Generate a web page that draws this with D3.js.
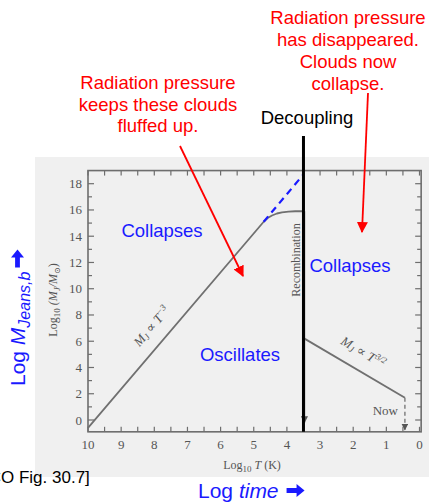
<!DOCTYPE html>
<html>
<head>
<meta charset="utf-8">
<script src="https://cdn.jsdelivr.net/npm/d3@7"></script>
<style>
  body { margin: 0; background: #fff; }
  svg { display: block; }
</style>
</head>
<body>
<script>
var w = 429;
var h = 504;

// tick labels
var xTickLabels = [10, 9, 8, 7, 6, 5, 4, 3, 2, 1, 0];
var yTickLabels = [0, 2, 4, 6, 8, 10, 12, 14, 16, 18];

// M_J vs log T before recombination (T^-3 then flattening)
var earlyLogT = [10, 4.7, 4.58, 4.45, 4.3, 4.15, 3.95, 3.75, 3.5];
var earlyLogM = [-0.6, 15.1, 15.38, 15.58, 15.73, 15.82, 15.88, 15.9, 15.9];

// blue dashed extrapolation of T^-3
var extrapLogT = [4.7, 3.52];
var extrapLogM = [15.1, 18.65];

// after recombination, M_J ∝ T^3/2
var lateLogT = [3.47, 0.44];
var lateLogM = [6.2, 1.7];

var decouplingLogT = 3.5;
var nowLogT = 0.44;

var xScale = d3.scaleLinear().domain([10, 0]).range([88, 419.5]);
var yScale = d3.scaleLinear().domain([0, 18]).range([420, 183.7]);

var frameX = [10, -0.05];
var frameY = [-0.9, 19];

var svg = d3.select("body")
      .append("svg")
      .attr("width", w)
      .attr("height", h);

var defs = svg.append("defs");
function marker(id, color, size) {
  defs.append("marker")
     .attr("id", id)
     .attr("viewBox", "0 0 10 10")
     .attr("refX", 9).attr("refY", 5)
     .attr("markerWidth", size).attr("markerHeight", size)
     .attr("markerUnits", "userSpaceOnUse")
     .attr("orient", "auto")
     .append("path")
     .attr("d", "M0,0 L10,5 L0,10 Z")
     .attr("fill", color);
}
marker("redArrow", "#ff0000", 11);
marker("grayArrow", "#555", 7);

// scanned page background
svg.append("rect")
   .attr("x", 35).attr("y", 157)
   .attr("width", w - 35).attr("height", 320)
   .attr("fill", "#f0f0f0");

var plot = svg.append("g");
var axisColor = "#6e6e6e";

// frame
plot.append("rect")
   .attr("x", xScale(frameX[0]))
   .attr("y", yScale(frameY[1]))
   .attr("width", xScale(frameX[1]) - xScale(frameX[0]))
   .attr("height", yScale(frameY[0]) - yScale(frameY[1]))
   .attr("fill", "none")
   .attr("stroke", axisColor)
   .attr("stroke-width", 1.6);

// x ticks at every half unit, bottom and top
var xMinor = d3.range(0, 10.01, 0.5);
plot.selectAll(".xtb")
   .data(xMinor).enter().append("line")
   .attr("x1", function(d) { return xScale(d); })
   .attr("x2", function(d) { return xScale(d); })
   .attr("y1", yScale(frameY[0]))
   .attr("y2", yScale(frameY[0]) - 5)
   .attr("stroke", axisColor).attr("stroke-width", 1.2);
plot.selectAll(".xtt")
   .data(xMinor).enter().append("line")
   .attr("x1", function(d) { return xScale(d); })
   .attr("x2", function(d) { return xScale(d); })
   .attr("y1", yScale(frameY[1]))
   .attr("y2", yScale(frameY[1]) + 5)
   .attr("stroke", axisColor).attr("stroke-width", 1.2);

// y ticks at every unit, left and right
var yMinor = d3.range(0, 18.01, 1);
plot.selectAll(".ytl")
   .data(yMinor).enter().append("line")
   .attr("x1", xScale(frameX[0]))
   .attr("x2", function(d) { return xScale(frameX[0]) + (d % 2 === 0 ? 6 : 4); })
   .attr("y1", function(d) { return yScale(d); })
   .attr("y2", function(d) { return yScale(d); })
   .attr("stroke", axisColor).attr("stroke-width", 1.2);
plot.selectAll(".ytr")
   .data(yMinor).enter().append("line")
   .attr("x1", xScale(frameX[1]))
   .attr("x2", function(d) { return xScale(frameX[1]) - (d % 2 === 0 ? 6 : 4); })
   .attr("y1", function(d) { return yScale(d); })
   .attr("y2", function(d) { return yScale(d); })
   .attr("stroke", axisColor).attr("stroke-width", 1.2);

var serif = "'Liberation Serif', 'DejaVu Serif', serif";
var textGray = "#555";

plot.selectAll(".xl")
   .data(xTickLabels).enter().append("text")
   .text(function(d) { return d; })
   .attr("x", function(d) { return xScale(d); })
   .attr("y", 449)
   .attr("text-anchor", "middle")
   .attr("font-family", serif).attr("font-size", "13px")
   .attr("fill", textGray);

plot.selectAll(".yl")
   .data(yTickLabels).enter().append("text")
   .text(function(d) { return d; })
   .attr("x", 82)
   .attr("y", function(d) { return yScale(d) + 4.5; })
   .attr("text-anchor", "end")
   .attr("font-family", serif).attr("font-size", "13px")
   .attr("fill", textGray);

// axis titles from the book figure
var xt = plot.append("text")
   .attr("x", 252).attr("y", 469)
   .attr("text-anchor", "middle")
   .attr("font-family", serif).attr("font-size", "12px")
   .attr("fill", textGray);
xt.append("tspan").text("Log");
xt.append("tspan").text("10").attr("font-size", "9px").attr("dy", 3);
xt.append("tspan").text(" T").attr("font-style", "italic").attr("dy", -3);
xt.append("tspan").text(" (K)");

var yt = plot.append("text")
   .attr("transform", "translate(57,300) rotate(-90)")
   .attr("text-anchor", "middle")
   .attr("font-family", serif).attr("font-size", "12px")
   .attr("fill", textGray);
yt.append("tspan").text("Log");
yt.append("tspan").text("10").attr("font-size", "9px").attr("dy", 3);
yt.append("tspan").text(" (M").attr("font-style", "italic").attr("dy", -3);
yt.append("tspan").text("J").attr("font-style", "italic").attr("font-size", "9px").attr("dy", 3);
yt.append("tspan").text("/M").attr("font-style", "italic").attr("dy", -3);
yt.append("tspan").text("⊙").attr("font-size", "8px").attr("dy", 3);
yt.append("tspan").text(")").attr("dy", -3);

// curves
var lineGen = d3.line()
   .x(function(d) { return xScale(d[0]); })
   .y(function(d) { return yScale(d[1]); });

plot.append("path")
   .datum(d3.zip(earlyLogT, earlyLogM))
   .attr("d", lineGen)
   .attr("fill", "none")
   .attr("stroke", "#707070")
   .attr("stroke-width", 1.8)
   .attr("stroke-linejoin", "round");

// recombination drop (behind decoupling line)
plot.append("line")
   .attr("x1", xScale(3.47)).attr("x2", xScale(3.47))
   .attr("y1", yScale(15.9)).attr("y2", yScale(-0.2))
   .attr("stroke", "#707070").attr("stroke-width", 1.5)
   .attr("marker-end", "url(#grayArrow)");

plot.append("path")
   .datum(d3.zip(lateLogT, lateLogM))
   .attr("d", lineGen)
   .attr("fill", "none")
   .attr("stroke", "#707070")
   .attr("stroke-width", 1.8);

plot.append("path")
   .datum(d3.zip(extrapLogT, extrapLogM))
   .attr("d", lineGen)
   .attr("fill", "none")
   .attr("stroke", "#1a1aff")
   .attr("stroke-width", 2.2)
   .attr("stroke-dasharray", "7,5");

// now marker
plot.append("line")
   .attr("x1", xScale(nowLogT)).attr("x2", xScale(nowLogT))
   .attr("y1", yScale(lateLogM[1])).attr("y2", yScale(-0.75))
   .attr("stroke", "#707070").attr("stroke-width", 1.3)
   .attr("stroke-dasharray", "4,3")
   .attr("marker-end", "url(#grayArrow)");

plot.append("text")
   .text("Now")
   .attr("x", xScale(nowLogT) - 7).attr("y", 415)
   .attr("text-anchor", "end")
   .attr("font-family", serif).attr("font-size", "13px")
   .attr("fill", textGray);

// line labels
var a1 = plot.append("text")
   .attr("transform", "translate(155,329) rotate(-50)")
   .attr("text-anchor", "middle")
   .attr("font-family", serif).attr("font-size", "13px")
   .attr("font-style", "italic")
   .attr("fill", textGray);
a1.append("tspan").text("M");
a1.append("tspan").text("J").attr("font-size", "9px").attr("dy", 2);
a1.append("tspan").text(" ∝ T").attr("dy", -2);
a1.append("tspan").text("−3").attr("font-size", "9px").attr("dy", -5);

var a2 = plot.append("text")
   .attr("transform", "translate(361,356) rotate(30.5)")
   .attr("text-anchor", "middle")
   .attr("font-family", serif).attr("font-size", "13px")
   .attr("font-style", "italic")
   .attr("fill", textGray);
a2.append("tspan").text("M");
a2.append("tspan").text("J").attr("font-size", "9px").attr("dy", 2);
a2.append("tspan").text(" ∝ T").attr("dy", -2);
a2.append("tspan").text("3/2").attr("font-size", "9px").attr("dy", -5);

plot.append("text")
   .text("Recombination")
   .attr("transform", "translate(300,260) rotate(-90)")
   .attr("text-anchor", "middle")
   .attr("font-family", serif).attr("font-size", "12px")
   .attr("fill", textGray);

// decoupling line
plot.append("line")
   .attr("x1", xScale(decouplingLogT)).attr("x2", xScale(decouplingLogT))
   .attr("y1", 136).attr("y2", yScale(frameY[0]))
   .attr("stroke", "#000").attr("stroke-width", 3);

var sans = "Arial, 'Liberation Sans', sans-serif";

svg.append("text")
   .text("Decoupling")
   .attr("x", 307).attr("y", 124)
   .attr("text-anchor", "middle")
   .attr("font-family", sans).attr("font-size", "18.5px")
   .attr("fill", "#000");

// blue region labels
var blue = "#1a1aff";
var regions = [["Collapses", 162, 237], ["Collapses", 350, 272], ["Oscillates", 240, 361]];
svg.selectAll(".reg")
   .data(regions).enter().append("text")
   .text(function(d) { return d[0]; })
   .attr("x", function(d) { return d[1]; })
   .attr("y", function(d) { return d[2]; })
   .attr("text-anchor", "middle")
   .attr("font-family", sans).attr("font-size", "18.5px")
   .attr("fill", blue);

// red annotations
var red = "#ff0000";
function redBlock(lines, x, y0, lh) {
  svg.append("g").selectAll("text")
     .data(lines).enter().append("text")
     .text(function(d) { return d; })
     .attr("x", x)
     .attr("y", function(d, i) { return y0 + i * lh; })
     .attr("text-anchor", "middle")
     .attr("font-family", sans).attr("font-size", "18.5px")
     .attr("fill", red);
}
redBlock(["Radiation pressure", "keeps these clouds", "fluffed up."], 158, 89, 21.5);
redBlock(["Radiation pressure", "has disappeared.", "Clouds now", "collapse."], 348, 24, 22);

svg.append("line")
   .attr("x1", 180).attr("y1", 146).attr("x2", 243).attr("y2", 276)
   .attr("stroke", red).attr("stroke-width", 1.8)
   .attr("marker-end", "url(#redArrow)");
svg.append("line")
   .attr("x1", 368).attr("y1", 93).attr("x2", 362).attr("y2", 232)
   .attr("stroke", red).attr("stroke-width", 1.8)
   .attr("marker-end", "url(#redArrow)");

// heavy arrow shape pointing right, origin at tail centre
var heavyArrow = "M0,-2.4 L10,-2.4 L10,-6.5 L18,0 L10,6.5 L10,2.4 L0,2.4 Z";

// slide axis labels
var lt = svg.append("text")
   .attr("x", 198).attr("y", 498)
   .attr("font-family", sans).attr("font-size", "21px")
   .attr("fill", blue);
lt.append("tspan").text("Log ");
lt.append("tspan").text("time").attr("font-style", "italic");
var ltEnd = 198 + lt.node().getComputedTextLength();
svg.append("path")
   .attr("d", heavyArrow)
   .attr("transform", "translate(" + (ltEnd + 8) + ",490.5)")
   .attr("fill", blue);

var lmBase = 386;
var lm = svg.append("text")
   .attr("transform", "translate(25," + lmBase + ") rotate(-90)")
   .attr("font-family", sans).attr("font-size", "21px")
   .attr("fill", blue);
lm.append("tspan").text("Log ");
lm.append("tspan").text("M").attr("font-style", "italic");
lm.append("tspan").text("Jeans,b").attr("font-style", "italic").attr("font-size", "16px").attr("dy", 5);
var lmEnd = lmBase - lm.node().getComputedTextLength();
svg.append("path")
   .attr("d", heavyArrow)
   .attr("transform", "translate(17.5," + (lmEnd - 4) + ") rotate(-90)")
   .attr("fill", blue);

svg.append("text")
   .text("[CO Fig. 30.7]")
   .attr("x", -16).attr("y", 483)
   .attr("font-family", sans).attr("font-size", "17px")
   .attr("fill", "#000");
</script>
</body>
</html>
